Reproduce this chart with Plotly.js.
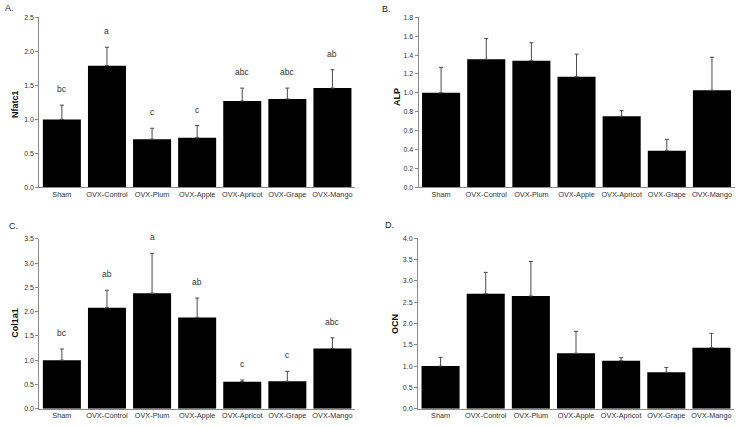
<!DOCTYPE html>
<html>
<head>
<meta charset="utf-8">
<script src="https://cdn.plot.ly/plotly-3.0.1.min.js"></script>
<style>html,body{margin:0;padding:0;background:#fff;}#chart{width:738px;height:426px;}</style>
</head>
<body>
<div id="chart"></div>
<script>
// ---- data ----
const groups = ["Sham", "OVX-Control", "OVX-Plum", "OVX-Apple", "OVX-Apricot", "OVX-Grape", "OVX-Mango"];

const nfatc1 = [1.00, 1.79, 0.71, 0.73, 1.27, 1.30, 1.46];
const nfatc1Err = [0.21, 0.27, 0.16, 0.18, 0.19, 0.16, 0.27];
const nfatc1Letters = ["bc", "a", "c", "c", "abc", "abc", "ab"];

const alp = [1.00, 1.355, 1.34, 1.17, 0.752, 0.388, 1.027];
const alpErr = [0.27, 0.22, 0.19, 0.24, 0.06, 0.12, 0.35];

const col1a1 = [1.00, 2.08, 2.38, 1.88, 0.557, 0.565, 1.24];
const col1a1Err = [0.23, 0.36, 0.82, 0.40, 0.035, 0.205, 0.22];
const col1a1Letters = ["bc", "ab", "a", "ab", "c", "c", "abc"];

const ocn = [1.00, 2.70, 2.646, 1.30, 1.127, 0.853, 1.432];
const ocnErr = [0.205, 0.50, 0.81, 0.516, 0.07, 0.117, 0.338];

const panelLabels = ["A.", "B.", "C.", "D."];
const yTitles = ["Nfatc1", "ALP", "Col1a1", "OCN"];

// ---- build ----
const FONT = "Liberation Sans, Arial, sans-serif";
function barTrace(vals, errs, xa, ya) {
  return {
    type: "bar", x: groups, y: vals, xaxis: xa, yaxis: ya,
    marker: {color: "#000000", line: {color: "#000000", width: 0}},
    error_y: {type: "data", symmetric: false, array: errs, arrayminus: errs.map(() => 0),
              color: "#4a4a4a", thickness: 1, width: 2},
    hoverinfo: "none", showlegend: false
  };
}
const data = [
  barTrace(nfatc1, nfatc1Err, "x", "y"),
  barTrace(alp, alpErr, "x2", "y2"),
  barTrace(col1a1, col1a1Err, "x3", "y3"),
  barTrace(ocn, ocnErr, "x4", "y4")
];

function xAxis(domain, anchor) {
  return {domain: domain, anchor: anchor, type: "category", showline: true, linecolor: "#8a8a8a", linewidth: 1,
          ticks: "", showgrid: false, zeroline: false, fixedrange: true,
          tickfont: {family: FONT, size: 7.3, color: "#333"}};
}
function yAxis(domain, anchor, range, dtick) {
  return {domain: domain, anchor: anchor, range: range, dtick: dtick, tick0: 0, tickformat: ".1f",
          showline: true, linecolor: "#8a8a8a", linewidth: 1, ticks: "outside", ticklen: 3, tickcolor: "#8a8a8a",
          showgrid: false, zeroline: false, fixedrange: true,
          tickfont: {family: FONT, size: 7, color: "#333"}};
}

const annotations = [];
function addLetters(vals, errs, letters, xa, ya) {
  letters.forEach((t, i) => {
    annotations.push({x: groups[i], y: vals[i] + errs[i], xref: xa, yref: ya, text: t, showarrow: false,
                      yshift: 16, yanchor: "middle", font: {family: FONT, size: 8.5, color: "#333"}});
  });
}
addLetters(nfatc1, nfatc1Err, nfatc1Letters, "x", "y");
addLetters(col1a1, col1a1Err, col1a1Letters, "x3", "y3");

const labelPos = [[3, 8], [380, 9], [7, 226], [383, 225]];
panelLabels.forEach((t, i) => {
  annotations.push({x: labelPos[i][0] / 738, y: 1 - labelPos[i][1] / 426, xref: "paper", yref: "paper",
                    xanchor: "left", yanchor: "middle", text: t, showarrow: false,
                    font: {family: FONT, size: 9, color: "#222"}});
});
const titlePos = [[15, 104], [397, 97], [14.7, 323], [395, 324]];
yTitles.forEach((t, i) => {
  annotations.push({x: titlePos[i][0] / 738, y: 1 - titlePos[i][1] / 426, xref: "paper", yref: "paper",
                    xanchor: "center", yanchor: "middle", textangle: -90, text: "<b>" + t + "</b>", showarrow: false,
                    font: {family: FONT, size: 9, color: "#111"}});
});

const layout = {
  width: 738, height: 426, margin: {l: 0, r: 0, t: 0, b: 0},
  paper_bgcolor: "#fff", plot_bgcolor: "#fff", bargap: 0.157,
  font: {family: FONT},
  xaxis: xAxis([0.0533, 0.481], "y"),
  yaxis: yAxis([0.5599, 0.9594], "x", [0, 2.5], 0.5),
  xaxis2: xAxis([0.5671, 0.9953], "y2"),
  yaxis2: yAxis([0.5603, 0.9594], "x2", [0, 1.8], 0.2),
  xaxis3: xAxis([0.0533, 0.481], "y3"),
  yaxis3: yAxis([0.0406, 0.4394], "x3", [0, 3.5], 0.5),
  xaxis4: xAxis([0.5664, 0.9946], "y4"),
  yaxis4: yAxis([0.0406, 0.4406], "x4", [0, 4], 0.5),
  annotations: annotations
};
Plotly.newPlot("chart", data, layout, {displayModeBar: false, staticPlot: true});
</script>
</body>
</html>
